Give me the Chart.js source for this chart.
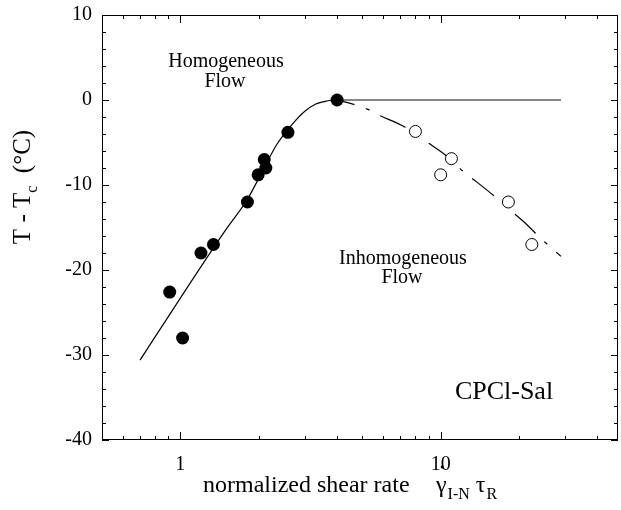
<!DOCTYPE html>
<html><head><meta charset="utf-8">
<script src="https://cdn.jsdelivr.net/npm/chart.js@4/dist/chart.umd.min.js"></script>
<style>html,body{margin:0;padding:0;background:#fff;overflow:hidden}canvas{display:block}</style>
</head><body>
<canvas id="c" width="621" height="510"></canvas>
<script>
// Filled circles (homogeneous flow data)
const filledX = [0.91, 1.02, 1.2, 1.34, 1.81, 1.99, 2.1, 2.13, 2.59, 4.0];
const filledY = [-22.6, -28.0, -18.0, -17.0, -12.0, -8.8, -7.0, -8.0, -3.8, 0];
// Open circles (inhomogeneous flow data)
const openX = [8.0, 10.0, 11.0, 18.2, 22.4];
const openY = [-3.7, -8.8, -6.9, -12.0, -17.0];
// Solid fitted curve
const fitX = [0.7, 1.0, 1.5, 1.8, 2.05, 2.34, 2.7, 3.0, 3.3, 3.65, 4.0];
const fitY = [-30.6, -23.3, -15.2, -11.8, -8.6, -5.3, -2.8, -1.35, -0.5, -0.12, 0];
// Horizontal solid line at 0
const plateauX = [4.0, 29.0];
const plateauY = [0, 0];
// Dashed curve
const dashX = [4.0, 4.5, 5.25, 5.86, 7.2, 9.0, 10.45, 12.3, 13.7, 16.5, 18.1, 20.8, 24.9, 29.0];
const dashY = [0, -0.4, -1.1, -1.85, -3.1, -5.1, -6.5, -8.5, -9.6, -11.6, -12.7, -14.3, -16.6, -18.4];
// Ticks
const xMajorTicks = [1, 10];
const xMinorTicks = [0.6, 0.7, 0.8, 0.9, 2, 3, 4, 5, 6, 7, 8, 9, 20, 30, 40];
const yMajorTicks = [-40, -30, -20, -10, 0, 10];
const yMinorTicks = [-38, -36, -34, -32, -28, -26, -24, -22, -18, -16, -14, -12, -8, -6, -4, -2, 2, 4, 6, 8];

const pts = (xs, ys) => xs.map((x, i) => ({x: x, y: ys[i]}));
const SERIF = '"Liberation Serif", "DejaVu Serif", serif';

const framePlugin = {
  id: 'frame',
  afterDraw(chart) {
    const ctx = chart.ctx, a = chart.chartArea;
    const xs = chart.scales.x, ys = chart.scales.y;
    ctx.save();
    ctx.strokeStyle = '#000';
    ctx.lineWidth = 1;
    ctx.strokeRect(a.left + 0.5, a.top + 0.5, a.right - a.left - 1, a.bottom - a.top - 1);
    ctx.beginPath();
    const tickX = (v, len) => {
      const p = Math.round(xs.getPixelForValue(v)) + 0.5;
      ctx.moveTo(p, a.bottom); ctx.lineTo(p, a.bottom - len);
      ctx.moveTo(p, a.top); ctx.lineTo(p, a.top + len);
    };
    const tickY = (v, len) => {
      const p = Math.round(ys.getPixelForValue(v)) + 0.5;
      ctx.moveTo(a.left, p); ctx.lineTo(a.left + len, p);
      ctx.moveTo(a.right, p); ctx.lineTo(a.right - len, p);
    };
    xMajorTicks.forEach(v => tickX(v, 8));
    xMinorTicks.forEach(v => tickX(v, 4));
    yMajorTicks.forEach(v => tickY(v, 7));
    yMinorTicks.forEach(v => tickY(v, 4));
    ctx.stroke();

    ctx.fillStyle = '#000';
    // Annotations
    ctx.textAlign = 'center';
    ctx.textBaseline = 'alphabetic';
    ctx.font = '20px ' + SERIF;
    ctx.fillText('Homogeneous', 226, 67);
    ctx.fillText('Flow', 225, 87);
    ctx.fillText('Inhomogeneous', 403, 264);
    ctx.fillText('Flow', 402, 283);
    ctx.font = '26px ' + SERIF;
    ctx.fillText('CPCl-Sal', 504, 399);

    // Y axis title: T - T_c (°C)
    ctx.save();
    ctx.translate(30, 187);
    ctx.rotate(-Math.PI / 2);
    ctx.textAlign = 'left';
    const bigY = '25px ' + SERIF, smallY = '16px ' + SERIF;
    ctx.font = bigY; const w1 = ctx.measureText('T - T').width;
    ctx.font = smallY; const w2 = ctx.measureText('c').width;
    ctx.font = bigY; const w3 = ctx.measureText('  (°C)').width;
    let sx = -(w1 + w2 + w3) / 2;
    ctx.font = bigY; ctx.fillText('T - T', sx, 0); sx += w1;
    ctx.font = smallY; ctx.fillText('c', sx, 7); sx += w2;
    ctx.font = bigY; ctx.fillText('  (°C)', sx, 0);
    ctx.restore();

    // X axis title
    ctx.textAlign = 'left';
    const big = '24px ' + SERIF, small = '16px ' + SERIF;
    let x = 203;
    const base = 492;
    ctx.font = big;
    ctx.fillText('normalized shear rate', x, base);
    x = 436;
    ctx.fillText('\u03B3', x, base);
    const gw = ctx.measureText('\u03B3').width;
    ctx.beginPath();
    ctx.arc(x + gw / 2 + 1, 467, 1.6, 0, Math.PI * 2);
    ctx.fill();
    x += gw + 1;
    ctx.font = small;
    ctx.fillText('I-N', x, base + 7);
    x += ctx.measureText('I-N').width + 6;
    ctx.font = big;
    ctx.fillText('\u03C4', x, base);
    x += ctx.measureText('\u03C4').width + 1;
    ctx.font = small;
    ctx.fillText('R', x, base + 7);
    ctx.restore();
  }
};

new Chart(document.getElementById('c'), {
  type: 'scatter',
  data: {
    datasets: [
      { data: pts(filledX, filledY), pointRadius: 6.5, pointBackgroundColor: '#000', pointBorderColor: '#000', pointBorderWidth: 0, showLine: false },
      { data: pts(openX, openY), pointRadius: 6, pointBackgroundColor: '#fff', pointBorderColor: '#000', pointBorderWidth: 1, showLine: false },
      { data: pts(fitX, fitY), showLine: true, pointRadius: 0, borderColor: '#000', borderWidth: 1.2, cubicInterpolationMode: 'monotone', fill: false },
      { data: pts(plateauX, plateauY), showLine: true, pointRadius: 0, borderColor: '#111', borderWidth: 1.2, fill: false },
      { data: pts(dashX, dashY), showLine: true, pointRadius: 0, borderColor: '#000', borderWidth: 1.2, borderDash: [28, 12, 4, 12], borderDashOffset: 10, cubicInterpolationMode: 'monotone', fill: false }
    ]
  },
  options: {
    responsive: false,
    animation: false,
    devicePixelRatio: 1,
    layout: { autoPadding: false, padding: { top: 15, right: 3, left: 0, bottom: 0 } },
    plugins: { legend: { display: false }, tooltip: { enabled: false } },
    scales: {
      x: {
        type: 'logarithmic', min: 0.5, max: 48,
        grid: { display: false, drawTicks: true, tickLength: 13 },
        border: { display: false },
        afterBuildTicks: s => { s.ticks = xMajorTicks.map(v => ({ value: v })); },
        afterFit: s => { s.height = 70; s.paddingLeft = 0; s.paddingRight = 0; s.paddingTop = 0; s.paddingBottom = 0; },
        ticks: { autoSkip: false, maxRotation: 0, padding: 0, color: '#000', font: { family: SERIF, size: 20 }, callback: v => String(v) }
      },
      y: {
        type: 'linear', min: -40, max: 10,
        grid: { display: false, drawTicks: true, tickLength: 10 },
        border: { display: false },
        afterBuildTicks: s => { s.ticks = yMajorTicks.map(v => ({ value: v })); },
        afterFit: s => { s.width = 102; s.paddingLeft = 0; s.paddingRight = 0; s.paddingTop = 0; s.paddingBottom = 0; },
        ticks: { padding: 0, color: '#000', font: { family: SERIF, size: 20 }, callback: v => String(v) }
      }
    }
  },
  plugins: [framePlugin]
});
</script>
</body></html>
